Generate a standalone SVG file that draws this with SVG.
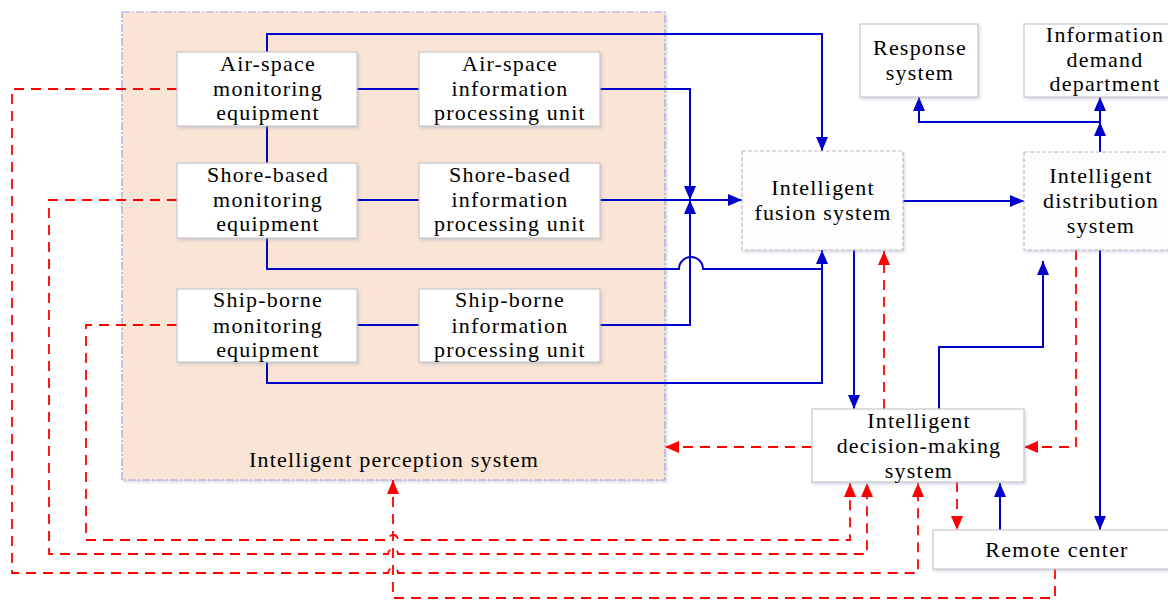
<svg xmlns="http://www.w3.org/2000/svg" width="1168" height="601" viewBox="0 0 1168 601">
  <style>
    .t { font-family: "Liberation Serif", "Times New Roman", serif; font-size: 22px; letter-spacing: 1.2px; fill: #000; text-anchor: middle; }
    .box { fill: #ffffff; stroke: #c8c8c8; stroke-width: 1.2; filter: url(#shadow); }
    .dbox { fill: #fdfdfd; stroke: #bdbdbd; stroke-width: 1.2; stroke-dasharray: 4 2; filter: url(#shadow); }
    .blue { fill: none; stroke: #0000cc; stroke-width: 2; }
    .red { fill: none; stroke: #ff0000; stroke-width: 1.8; stroke-dasharray: 10 7; }
  </style>
  <defs>
    <filter id="shadow" x="-10%" y="-10%" width="120%" height="130%">
      <feDropShadow dx="1.5" dy="2" stdDeviation="1.5" flood-color="#8899bb" flood-opacity="0.35"/>
    </filter>
    <marker id="ab" markerUnits="userSpaceOnUse" markerWidth="14" markerHeight="12" refX="14" refY="6" orient="auto">
      <path d="M0,0 L14,6 L0,12 z" fill="#0000cc"/>
    </marker>
    <marker id="ar" markerUnits="userSpaceOnUse" markerWidth="14" markerHeight="12" refX="14" refY="6" orient="auto">
      <path d="M0,0 L14,6 L0,12 z" fill="#ff0000"/>
    </marker>
  </defs>

  <rect width="1168" height="601" fill="#ffffff"/>

  <!-- perception container -->
  <g id="perception">
    <rect x="122" y="12" width="543" height="468" fill="#f9e4d5" stroke="#a4a2e0" stroke-width="1.2" stroke-dasharray="8 2 2 2" filter="url(#shadow)"/>
    <text class="t" x="394" y="467">Intelligent perception system</text>
  </g>

  <!-- connectors -->
  <g id="connectors">
    <!-- blue data flow -->
    <path class="blue" d="M267,52 V34 H822 V151" marker-end="url(#ab)"/>
    <path class="blue" d="M357,89 H419"/>
    <path class="blue" d="M267,126 V163"/>
    <path class="blue" d="M600,89 H690 V200" marker-end="url(#ab)"/>
    <path class="blue" d="M357,200 H419"/>
    <path class="blue" d="M600,200 H742" marker-end="url(#ab)"/>
    <path class="blue" d="M600,325 H690 V200" marker-end="url(#ab)"/>
    <path class="blue" d="M267,238 V269 H679 A12,12 0 0 1 703,269 H822 V250" marker-end="url(#ab)"/>
    <path class="blue" d="M357,325 H419"/>
    <path class="blue" d="M267,362 V383 H822 V269"/>
    <path class="blue" d="M903,201 H1024" marker-end="url(#ab)"/>
    <path class="blue" d="M854,250 V409" marker-end="url(#ab)"/>
    <path class="blue" d="M1100,152 V122" marker-end="url(#ab)"/>
    <path class="blue" d="M1100,122 V97" marker-end="url(#ab)"/>
    <path class="blue" d="M1100,122 H919 V97" marker-end="url(#ab)"/>
    <path class="blue" d="M1100,250 V530" marker-end="url(#ab)"/>
    <path class="blue" d="M939,409 V347 H1043 V261" marker-end="url(#ab)"/>
    <path class="blue" d="M1000,530 V483" marker-end="url(#ab)"/>

    <!-- red feedback flow -->
    <path class="red" d="M177,89 H12 V573 H388 A5,5 0 0 1 398,573 H918 V483" marker-end="url(#ar)"/>
    <path class="red" d="M177,200 H49 V554 H388 A5,5 0 0 1 398,554 H867 V483" marker-end="url(#ar)"/>
    <path class="red" d="M177,325 H86 V540 H388 A5,5 0 0 1 398,540 H850 V483" marker-end="url(#ar)"/>
    <path class="red" d="M1055,569 V598 H393 V480" marker-end="url(#ar)"/>
    <path class="red" d="M812,447 H665" marker-end="url(#ar)"/>
    <path class="red" d="M884,409 V251" marker-end="url(#ar)"/>
    <path class="red" d="M1076,250 V447 H1024" marker-end="url(#ar)"/>
    <path class="red" d="M957,482 V530" marker-end="url(#ar)"/>
  </g>

  <g id="airspace-monitoring">
    <rect class="box" x="177" y="52" width="180" height="74"/>
    <text class="t" x="268" y="71">Air-space</text>
    <text class="t" x="268" y="96">monitoring</text>
    <text class="t" x="268" y="120">equipment</text>
  </g>
  <g id="airspace-processing">
    <rect class="box" x="419" y="52" width="181" height="74"/>
    <text class="t" x="510" y="71">Air-space</text>
    <text class="t" x="510" y="96">information</text>
    <text class="t" x="510" y="120">processing unit</text>
  </g>
  <g id="shore-monitoring">
    <rect class="box" x="177" y="163" width="180" height="75"/>
    <text class="t" x="268" y="182">Shore-based</text>
    <text class="t" x="268" y="207">monitoring</text>
    <text class="t" x="268" y="231">equipment</text>
  </g>
  <g id="shore-processing">
    <rect class="box" x="419" y="163" width="181" height="75"/>
    <text class="t" x="510" y="182">Shore-based</text>
    <text class="t" x="510" y="207">information</text>
    <text class="t" x="510" y="231">processing unit</text>
  </g>
  <g id="ship-monitoring">
    <rect class="box" x="177" y="289" width="180" height="73"/>
    <text class="t" x="268" y="307">Ship-borne</text>
    <text class="t" x="268" y="333">monitoring</text>
    <text class="t" x="268" y="357">equipment</text>
  </g>
  <g id="ship-processing">
    <rect class="box" x="419" y="289" width="181" height="73"/>
    <text class="t" x="510" y="307">Ship-borne</text>
    <text class="t" x="510" y="333">information</text>
    <text class="t" x="510" y="357">processing unit</text>
  </g>

  <g id="fusion">
    <rect class="dbox" x="742" y="151" width="161" height="99"/>
    <text class="t" x="823" y="195">Intelligent</text>
    <text class="t" x="823" y="220">fusion system</text>
  </g>
  <g id="distribution">
    <rect class="dbox" x="1024" y="152" width="150" height="98"/>
    <text class="t" x="1101" y="183">Intelligent</text>
    <text class="t" x="1101" y="208">distribution</text>
    <text class="t" x="1101" y="233">system</text>
  </g>
  <g id="response">
    <rect class="box" x="860" y="24" width="118" height="73"/>
    <text class="t" x="920" y="55">Response</text>
    <text class="t" x="920" y="80">system</text>
  </g>
  <g id="demand">
    <rect class="box" x="1024" y="24" width="150" height="73"/>
    <text class="t" x="1105" y="42">Information</text>
    <text class="t" x="1105" y="67">demand</text>
    <text class="t" x="1105" y="91">department</text>
  </g>
  <g id="decision">
    <rect class="box" x="812" y="409" width="212" height="73"/>
    <text class="t" x="919" y="428">Intelligent</text>
    <text class="t" x="919" y="453">decision-making</text>
    <text class="t" x="919" y="478">system</text>
  </g>
  <g id="remote">
    <rect class="box" x="933" y="530" width="240" height="39"/>
    <text class="t" x="1057" y="557">Remote center</text>
  </g>
</svg>
